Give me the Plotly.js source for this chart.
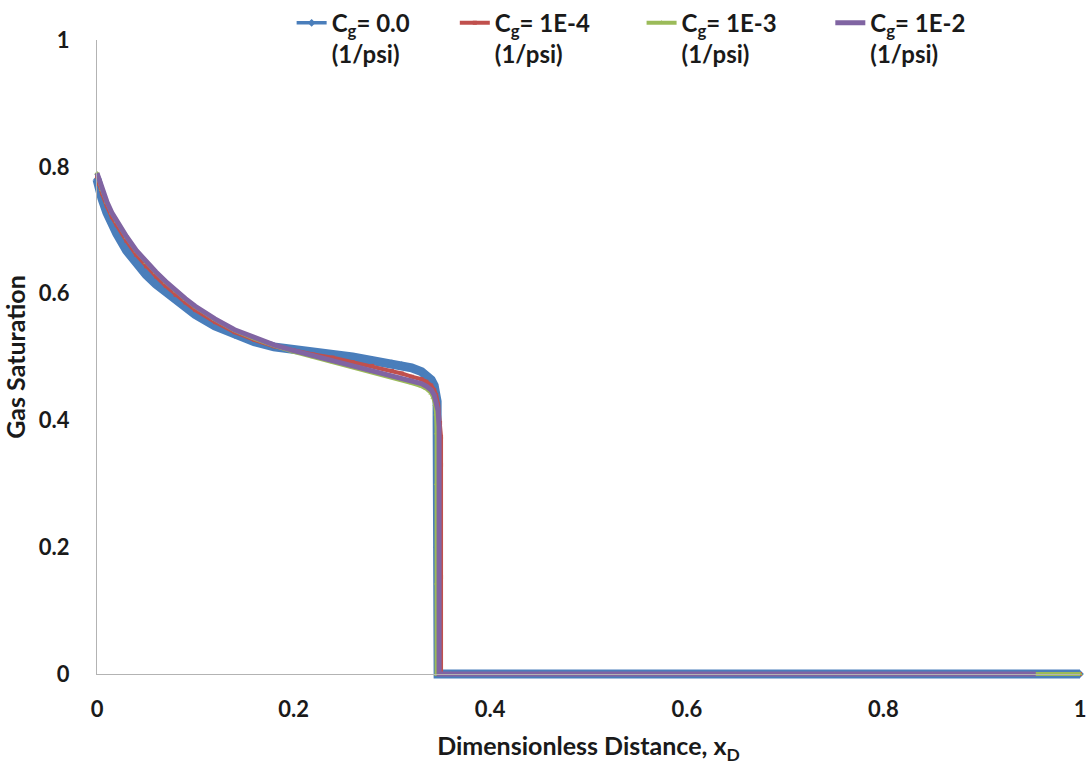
<!DOCTYPE html>
<html>
<head>
<meta charset="utf-8">
<script src="https://cdn.plot.ly/plotly-3.0.1.min.js"></script>
<style>html,body{margin:0;padding:0;background:#fff;}#chart{width:1092px;height:774px;}</style>
</head>
<body>
<div id="chart"></div>
<script>
// Series names
const seriesNames = [
  "C<sub>g</sub>= 0.0<br>(1/psi)",
  "C<sub>g</sub>= 1E-4<br>(1/psi)",
  "C<sub>g</sub>= 1E-3<br>(1/psi)",
  "C<sub>g</sub>= 1E-2<br>(1/psi)"
];

// Cg = 0.0
const xCg0 = [0, 0.002, 0.005, 0.01, 0.015, 0.02, 0.03, 0.04, 0.05, 0.06, 0.07, 0.08, 0.09, 0.10, 0.12, 0.14, 0.16, 0.18, 0.20, 0.22, 0.24, 0.26, 0.28, 0.30, 0.31, 0.32, 0.33, 0.335, 0.34, 0.343, 0.345, 0.346, 0.346, 0.346, 0.346, 0.347, 0.347, 0.36, 0.45, 0.55, 0.65, 0.75, 0.85, 0.95, 1.0];
const sCg0 = [0.78, 0.765, 0.75, 0.728, 0.71, 0.695, 0.668, 0.647, 0.63, 0.615, 0.602, 0.59, 0.578, 0.567, 0.549, 0.535, 0.524, 0.516, 0.511, 0.507, 0.504, 0.5, 0.495, 0.49, 0.487, 0.483, 0.477, 0.472, 0.464, 0.455, 0.44, 0.43, 0.40, 0.366, 0.2, 0.1, 0, 0, 0, 0, 0, 0, 0, 0, 0];

// Cg = 1E-4
const xCg4 = [0, 0.002, 0.005, 0.01, 0.015, 0.02, 0.03, 0.04, 0.05, 0.06, 0.07, 0.08, 0.09, 0.10, 0.12, 0.14, 0.16, 0.18, 0.20, 0.22, 0.24, 0.26, 0.28, 0.30, 0.31, 0.32, 0.33, 0.335, 0.34, 0.343, 0.345, 0.347, 0.349, 0.35, 0.35, 0.35, 0.35, 0.35, 0.36, 0.45, 0.55, 0.65, 0.75, 0.85, 0.95, 1.0];
const sCg4 = [0.785, 0.773, 0.758, 0.738, 0.721, 0.708, 0.683, 0.661, 0.643, 0.627, 0.612, 0.598, 0.586, 0.574, 0.555, 0.539, 0.527, 0.517, 0.51, 0.504, 0.499, 0.492, 0.486, 0.478, 0.474, 0.469, 0.465, 0.461, 0.455, 0.448, 0.44, 0.425, 0.396, 0.374, 0.33, 0.153, 0, 0, 0, 0, 0, 0, 0, 0, 0, 0];

// Cg = 1E-3
const xCg3 = [0, 0.002, 0.005, 0.01, 0.015, 0.02, 0.03, 0.04, 0.05, 0.06, 0.07, 0.08, 0.09, 0.10, 0.12, 0.14, 0.16, 0.18, 0.20, 0.22, 0.24, 0.26, 0.28, 0.30, 0.31, 0.32, 0.33, 0.335, 0.34, 0.342, 0.344, 0.345, 0.3455, 0.3455, 0.3455, 0.3455, 0.36, 0.45, 0.55, 0.65, 0.75, 0.85, 0.95, 1.0];
const sCg3 = [0.79, 0.779, 0.764, 0.744, 0.727, 0.714, 0.689, 0.667, 0.649, 0.633, 0.618, 0.604, 0.591, 0.579, 0.559, 0.542, 0.529, 0.518, 0.508, 0.5, 0.492, 0.484, 0.476, 0.468, 0.464, 0.459, 0.454, 0.45, 0.443, 0.436, 0.425, 0.41, 0.38, 0.30, 0.143, 0, 0, 0, 0, 0, 0, 0, 0, 0];

// Cg = 1E-2
const xCg2 = [0, 0.002, 0.005, 0.01, 0.015, 0.02, 0.03, 0.04, 0.05, 0.06, 0.07, 0.08, 0.09, 0.10, 0.12, 0.14, 0.16, 0.18, 0.20, 0.22, 0.24, 0.26, 0.28, 0.30, 0.31, 0.32, 0.33, 0.335, 0.34, 0.343, 0.345, 0.347, 0.348, 0.348, 0.348, 0.36, 0.45, 0.55, 0.65, 0.75, 0.85, 0.955];
const sCg2 = [0.79, 0.78, 0.765, 0.745, 0.728, 0.715, 0.69, 0.668, 0.65, 0.634, 0.619, 0.605, 0.592, 0.58, 0.56, 0.543, 0.53, 0.519, 0.51, 0.502, 0.495, 0.487, 0.48, 0.472, 0.468, 0.463, 0.458, 0.454, 0.448, 0.44, 0.43, 0.415, 0.39, 0.183, 0, 0, 0, 0, 0, 0, 0, 0];

const xTicks = [0, 0.2, 0.4, 0.6, 0.8, 1];
const xTickText = ["0", "0.2", "0.4", "0.6", "0.8", "1"];
const yTicks = [0, 0.2, 0.4, 0.6, 0.8, 1];
const yTickText = ["0", "0.2", "0.4", "0.6", "0.8", "1"];

const colors = ["#4a7ebb", "#c0504d", "#9bbb59", "#8064a2"];
const FONT = "Lato, 'Open Sans', sans-serif";

const traces = [
  // dense-marker band of the Cg = 0 series (same data, no legend entry)
  {x: xCg0, y: sCg0, name: seriesNames[0], showlegend: false, hoverinfo: "skip",
   mode: "lines", line: {color: colors[0], width: 9}, cliponaxis: false},
  {x: xCg0, y: sCg0, name: seriesNames[0], legend: "legend2",
   mode: "lines+markers", line: {color: colors[0], width: 3.5},
   marker: {symbol: "diamond", size: 6, color: colors[0]}, cliponaxis: false},
  {x: xCg4, y: sCg4, name: seriesNames[1], legend: "legend3",
   mode: "lines+markers", line: {color: colors[1], width: 4},
   marker: {symbol: "square", size: 4, color: colors[1]}, cliponaxis: false},
  {x: xCg3, y: sCg3, name: seriesNames[2], legend: "legend4",
   mode: "lines+markers", line: {color: colors[2], width: 4},
   marker: {symbol: "triangle-up", size: 5, color: colors[2]}, cliponaxis: false},
  {x: xCg2, y: sCg2, name: seriesNames[3], legend: "legend5",
   mode: "lines", line: {color: colors[3], width: 5}, cliponaxis: false}
];

const legendBase = {
  orientation: "v", xanchor: "left", yanchor: "top", y: 1.062,
  valign: "top", bgcolor: "rgba(0,0,0,0)", borderwidth: 0,
  font: {family: FONT, size: 24, color: "#1a1a1a", weight: "bold"}
};

const layout = {
  width: 1092, height: 774,
  margin: {l: 97, r: 12, t: 40, b: 100, autoexpand: false},
  paper_bgcolor: "#ffffff", plot_bgcolor: "#ffffff",
  font: {family: FONT, color: "#1a1a1a"},
  showlegend: true,
  legend2: Object.assign({}, legendBase, {x: 0.198}),
  legend3: Object.assign({}, legendBase, {x: 0.364}),
  legend4: Object.assign({}, legendBase, {x: 0.554}),
  legend5: Object.assign({}, legendBase, {x: 0.746}),
  xaxis: {
    range: [0, 1], tickvals: xTicks, ticktext: xTickText,
    showgrid: false, zeroline: false, showline: true, linecolor: "#b3b3b3", linewidth: 1,
    ticks: "", ticklabelstandoff: 16,
    tickfont: {family: FONT, size: 22, color: "#1a1a1a", weight: "bold"},
    title: {text: "Dimensionless Distance, x<sub>D</sub>", standoff: 16,
            font: {family: FONT, size: 25, color: "#1a1a1a", weight: "bold"}}
  },
  yaxis: {
    range: [0, 1], tickvals: yTicks, ticktext: yTickText,
    showgrid: false, zeroline: false, showline: true, linecolor: "#b3b3b3", linewidth: 1,
    ticks: "", ticklabelstandoff: 22,
    tickfont: {family: FONT, size: 22, color: "#1a1a1a", weight: "bold"},
    title: {text: "Gas Saturation", standoff: 8,
            font: {family: FONT, size: 25, color: "#1a1a1a", weight: "bold"}}
  }
};

Plotly.newPlot("chart", traces, layout, {displayModeBar: false, staticPlot: true}).then(function (gd) {
  // let the thick series lines overhang the axes as in the original (not cut at the plot edge)
  gd.querySelectorAll(".scatterlayer .js-line, .scatterlayer .trace, .scatterlayer, .plot").forEach(function (el) {
    el.removeAttribute("clip-path");
  });
});
</script>
</body>
</html>
